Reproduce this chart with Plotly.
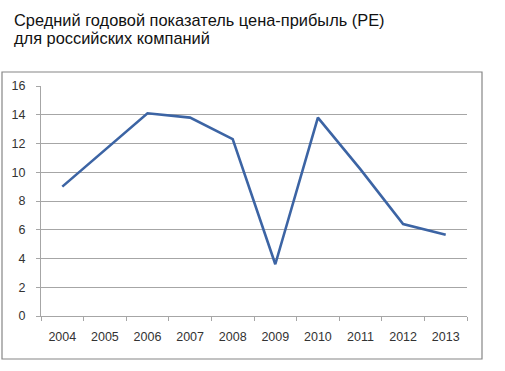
import plotly.graph_objects as go

years = ["2004", "2005", "2006", "2007", "2008", "2009", "2010", "2011", "2012", "2013"]
pe_values = [9.0, 11.55, 14.1, 13.8, 12.3, 3.6, 13.8, 10.2, 6.4, 5.65]
y_ticks = [0, 2, 4, 6, 8, 10, 12, 14, 16]
title_lines = ["Средний годовой показатель цена-прибыль (PE)", "для российских компаний"]

W, H = 505, 371
L, R, T, B = 41, 467, 86, 316  # plot area in px

def px_x(p):
    return (p - L) / (R - L)

def px_y(p):
    return (B - p) / (B - T)

fig = go.Figure()
fig.add_trace(go.Scatter(
    x=years, y=pe_values, mode="lines",
    line=dict(color="#3C64A4", width=2.6),
    hoverinfo="x+y", showlegend=False,
))

title_font = dict(family="Liberation Sans, Arial, sans-serif", size=16.4, color="#111111")
annotations = []
for line, yc in zip(title_lines, [20.0, 37.8]):
    annotations.append(dict(
        text=line, xref="paper", yref="paper", x=px_x(12), y=px_y(yc),
        xanchor="left", yanchor="middle", showarrow=False, font=title_font,
    ))

fig.update_layout(
    width=W, height=H,
    margin=dict(l=L, r=W - R, t=T, b=H - B),
    paper_bgcolor="white", plot_bgcolor="white",
    font=dict(family="Liberation Sans, Arial, sans-serif", color="#333333", size=12),
    xaxis=dict(
        type="category", range=[-0.5, 9.5], showgrid=False,
        showline=True, linecolor="#A6A6A6", linewidth=1,
        ticks="outside", tickson="boundaries", ticklen=4, tickcolor="#A6A6A6",
        ticklabelstandoff=9,
        tickfont=dict(size=12.5, color="#333333"), fixedrange=True,
    ),
    yaxis=dict(
        range=[0, 16], tickvals=y_ticks, showgrid=True,
        gridcolor="#A6A6A6", gridwidth=1, zeroline=False,
        showline=True, linecolor="#A6A6A6", linewidth=1,
        ticks="outside", ticklen=4, tickcolor="#A6A6A6",
        ticklabelstandoff=8,
        tickfont=dict(size=12.5, color="#333333"), fixedrange=True,
    ),
    annotations=annotations,
    shapes=[dict(
        type="rect", xref="paper", yref="paper",
        x0=px_x(2), x1=px_x(482), y0=px_y(359), y1=px_y(72),
        line=dict(color="#868686", width=1.2), fillcolor="rgba(0,0,0,0)", layer="below",
    )],
)

fig.write_html("out.html", config={"displayModeBar": False},
               post_script="document.body.style.margin='0';")
